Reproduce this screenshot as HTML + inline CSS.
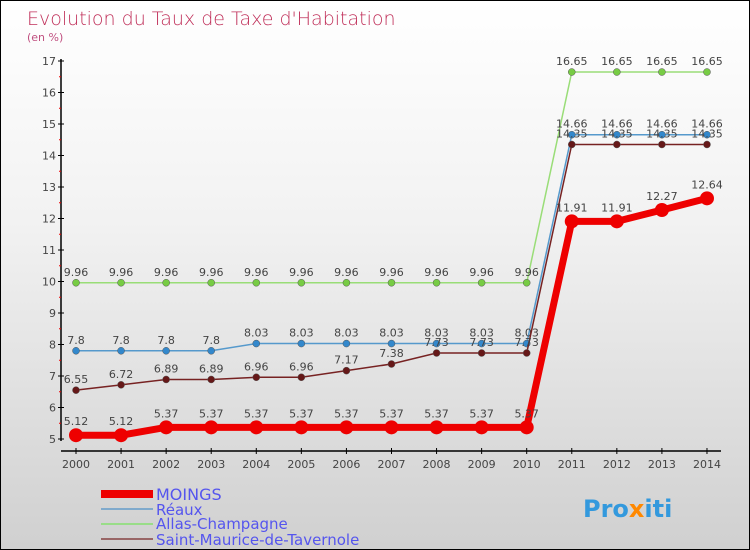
<!DOCTYPE html>
<html><head><meta charset="utf-8"><style>
body{margin:0}
#c{width:748px;height:548px;border:1px solid #000;background:linear-gradient(#fff,#f2f2f2 40%,#d0d0d0);position:relative;overflow:hidden;font-family:"DejaVu Sans","Liberation Sans",sans-serif}
</style></head><body>
<div id="c">
<svg id="s" width="748" height="548">
<text x="26" y="24" font-size="19" fill="#c0305a" font-weight="200">Evolution du Taux de Taxe d'Habitation</text>
<text x="26" y="40" font-size="11" fill="#c05080">(en %)</text>
<g id="g"></g>
<g font-size="15" fill="#5555ee">
<rect x="100" y="489" width="52" height="8" fill="#e00"/>
<text x="155" y="499" font-size="16">MOINGS</text>
<rect x="100" y="507" width="52" height="2" fill="#80aacc"/>
<text x="155" y="514">Réaux</text>
<rect x="100" y="522" width="52" height="2" fill="#99dd88"/>
<text x="155" y="528">Allas-Champagne</text>
<rect x="100" y="537" width="52" height="2" fill="#996666"/>
<text x="155" y="544">Saint-Maurice-de-Tavernole</text>
</g>
<text x="582" y="516" font-size="24" font-weight="bold" fill="#3399dd">Pro<tspan fill="#ff8800">x</tspan>iti</text>
</svg></div>
<script>
const years=[2000,2001,2002,2003,2004,2005,2006,2007,2008,2009,2010,2011,2012,2013,2014];
const moings=[5.12,5.12,5.37,5.37,5.37,5.37,5.37,5.37,5.37,5.37,5.37,11.91,11.91,12.27,12.64];
const reaux=[7.8,7.8,7.8,7.8,8.03,8.03,8.03,8.03,8.03,8.03,8.03,14.66,14.66,14.66,14.66];
const allas=[9.96,9.96,9.96,9.96,9.96,9.96,9.96,9.96,9.96,9.96,9.96,16.65,16.65,16.65,16.65];
const saint=[6.55,6.72,6.89,6.89,6.96,6.96,7.17,7.38,7.73,7.73,7.73,14.35,14.35,14.35,14.35];
const yTicks=[5,6,7,8,9,10,11,12,13,14,15,16,17];
const NS="http://www.w3.org/2000/svg",g=document.getElementById('g');
const X=i=>75+i*45.07, Y=v=>438-(v-5)*31.5;
function mk(t,a,p){const e=document.createElementNS(NS,t);for(const k in a)e.setAttribute(k,a[k]);(p||g).appendChild(e);return e;}
let ax=mk('line',{x1:60,y1:58,x2:60,y2:440,stroke:'#000','stroke-width':1.5});

let bx=mk('line',{x1:60,y1:450,x2:720,y2:450,stroke:'#000','stroke-width':1.5});

yTicks.forEach(v=>{mk('line',{x1:57,y1:Y(v),x2:63,y2:Y(v),stroke:'#000'});
 if(v<17)mk('line',{x1:58,y1:Y(v+0.5),x2:60,y2:Y(v+0.5),stroke:'#e00'});
 const t=mk('text',{x:55,y:Y(v)+4,'text-anchor':'end','font-size':11,fill:'#444'});t.textContent=v;
 });
years.forEach((y,i)=>{mk('line',{x1:X(i),y1:447,x2:X(i),y2:453,stroke:'#000'});
 const t=mk('text',{x:X(i),y:467,'text-anchor':'middle','font-size':11,fill:'#444'});t.textContent=y;
 });
function series(d,col,dot,w,r,name){
 const s=mk('g',{});
 mk('polyline',{points:d.map((v,i)=>X(i)+','+Y(v)).join(' '),fill:'none',stroke:col,'stroke-width':w},s);
 d.forEach((v,i)=>{const c=mk('circle',{cx:X(i),cy:Y(v),r:r,fill:dot,stroke:w>3?'none':'#555','stroke-width':0.5},s);
  
  const t=mk('text',{x:X(i),y:Y(v)-(w>3?10:7),'text-anchor':'middle','font-size':11,fill:'#444'},s);t.textContent=v;
  });
}
series(allas,'#99dd77','#77cc44',1.5,3.5,'allas');
series(reaux,'#5599cc','#3388cc',1.5,3.5,'reaux');
series(saint,'#772222','#661818',1.5,3.5,'saint-maurice');
series(moings,'#ee0000','#ee0000',7,7,'moings');
</script>
</body></html>
